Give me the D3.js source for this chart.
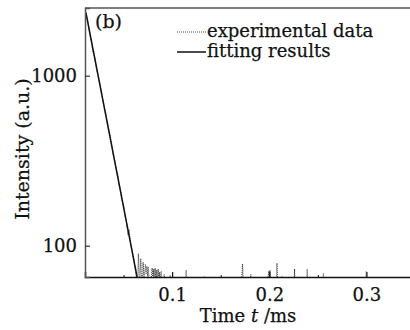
<!DOCTYPE html>
<html>
<head>
<meta charset="utf-8">
<script src="https://cdn.jsdelivr.net/npm/d3@7"></script>
<style>
  body { margin: 0; background: #fff; }
  svg { display: block; }
  text { font-family: "DejaVu Serif", "Liberation Serif", serif; fill: #111; stroke: #111; stroke-width: 0.25; }
</style>
</head>
<body>
<div id="chart"></div>
<script>
// experimental decay curve (time in ms, intensity in a.u.)
const expTime = [0.0113, 0.0125, 0.014, 0.0155, 0.017, 0.0185, 0.02, 0.0215, 0.023, 0.0245,
  0.026, 0.0275, 0.029, 0.0305, 0.032, 0.0335, 0.035, 0.0365, 0.038, 0.0395,
  0.041, 0.0425, 0.044, 0.0455, 0.047, 0.0485, 0.05, 0.0515, 0.053, 0.0545,
  0.0557, 0.057, 0.0585, 0.06, 0.0615, 0.063,
  0.0645, 0.0653, 0.066, 0.0668, 0.0677, 0.0685, 0.0693, 0.0701, 0.071, 0.0718,
  0.0725, 0.0732, 0.074, 0.0748, 0.0755, 0.0765, 0.078, 0.0794, 0.0802, 0.081,
  0.0818, 0.0825, 0.0833, 0.0841, 0.0848, 0.0856, 0.0864, 0.0872, 0.088, 0.0887,
  0.0895, 0.0905, 0.0918, 0.093, 0.095, 0.098, 0.0995, 0.105, 0.113, 0.1144,
  0.1155, 0.13, 0.1333, 0.135, 0.15, 0.17, 0.1725, 0.174, 0.18, 0.181,
  0.182, 0.195, 0.1995, 0.2, 0.2008, 0.202, 0.207, 0.2079, 0.209, 0.212,
  0.213, 0.214, 0.225, 0.226, 0.227, 0.238, 0.239, 0.24, 0.255, 0.2557,
  0.2565, 0.299, 0.2997, 0.3005, 0.35];
const expIntensity = [2380, 2150, 1960, 1700, 1560, 1380, 1310, 1150, 1040, 960,
  870, 790, 700, 640, 590, 520, 480, 430, 390, 340,
  315, 280, 262, 228, 210, 185, 172, 150, 138, 118,
  122, 106, 95, 86, 76, 66,
  60, 90, 70, 62, 84, 66, 60, 80, 64, 70,
  78, 68, 76, 66, 75, 60, 58, 74, 60, 73,
  58, 74, 60, 72, 58, 73, 60, 70, 57, 71,
  58, 55, 68, 55, 50, 67, 50, 45, 48, 72,
  45, 42, 66, 42, 40, 45, 78, 45, 48, 68,
  45, 42, 71, 60, 72, 44, 48, 79, 46, 45,
  66, 44, 46, 73, 45, 46, 73, 45, 45, 69,
  45, 42, 71, 42, 40];

// single-exponential fit
const fitTime = [0.0113, 0.0645];
const fitIntensity = [2340, 63];

const yTicks = [100, 1000];
const xTicks = [0.1, 0.2, 0.3];
const xMinorTicks = [0.05, 0.15, 0.25];

const width = 410;
const height = 330;
const margin = { top: 8, right: 0, bottom: 53, left: 85 };

const svg = d3.select('#chart')
  .append('svg')
  .attr('width', width)
  .attr('height', height);

const x = d3.scaleLinear()
  .domain([0.0103, 0.35])
  .range([margin.left, 415]);

const y = d3.scaleLog()
  .domain([65.5, 2500])
  .range([height - margin.bottom, margin.top]);

svg.append('clipPath')
  .attr('id', 'plot-clip')
  .append('rect')
  .attr('x', margin.left)
  .attr('y', margin.top)
  .attr('width', width - margin.left)
  .attr('height', height - margin.bottom - margin.top);

const expData = expTime.map((t, i) => [t, expIntensity[i]]);
const fitData = fitTime.map((t, i) => [t, fitIntensity[i]]);

const line = d3.line()
  .x(d => x(d[0]))
  .y(d => y(d[1]));

const plot = svg.append('g').attr('clip-path', 'url(#plot-clip)');

plot.append('path')
  .datum(expData)
  .attr('d', line)
  .attr('fill', 'none')
  .attr('stroke', '#444')
  .attr('stroke-width', 1.1)
  .attr('stroke-dasharray', '1,1');

plot.append('path')
  .datum(fitData)
  .attr('d', line)
  .attr('fill', 'none')
  .attr('stroke', '#111')
  .attr('stroke-width', 1.5);

// frame: top border
svg.append('line')
  .attr('x1', margin.left).attr('x2', width)
  .attr('y1', margin.top).attr('y2', margin.top)
  .attr('stroke', '#555').attr('stroke-width', 1.5);

// x axis (ticks point inward)
const xAxis = svg.append('g')
  .attr('transform', `translate(0,${height - margin.bottom})`)
  .call(d3.axisBottom(x).tickValues(xTicks).tickSize(-5).tickPadding(11).tickFormat(d3.format('.1f')));
xAxis.select('.domain').attr('stroke', '#111').attr('stroke-width', 1.5);
xAxis.selectAll('.tick line').attr('stroke', '#111').attr('stroke-width', 1.2);
xAxis.selectAll('text')
  .attr('font-size', 18)
  .style('font-family', '"DejaVu Serif", serif')
  .attr('fill', '#111');

svg.append('g')
  .attr('transform', `translate(0,${height - margin.bottom})`)
  .call(d3.axisBottom(x).tickValues(xMinorTicks).tickSize(-2).tickFormat(''))
  .call(g => g.select('.domain').remove())
  .selectAll('.tick line').attr('stroke', '#111');

// y axis (log)
const yAxis = svg.append('g')
  .attr('transform', `translate(${margin.left},0)`)
  .call(d3.axisLeft(y).tickValues(yTicks).tickSize(-5).tickPadding(8).tickFormat(d3.format('d')));
yAxis.select('.domain').attr('stroke', '#555').attr('stroke-width', 1.5);
yAxis.selectAll('.tick line').attr('stroke', '#333').attr('stroke-width', 1.2);
yAxis.selectAll('text')
  .attr('font-size', 18)
  .style('font-family', '"DejaVu Serif", serif')
  .attr('fill', '#111');

// axis titles
const xTitle = svg.append('text')
  .attr('x', 248)
  .attr('y', 322)
  .attr('text-anchor', 'middle')
  .attr('font-size', 18);
xTitle.append('tspan').text('Time ');
xTitle.append('tspan').attr('font-style', 'italic').text('t');
xTitle.append('tspan').text(' /ms');

svg.append('text')
  .attr('transform', 'translate(29,149) rotate(-90)')
  .attr('text-anchor', 'middle')
  .attr('font-size', 19)
  .text('Intensity (a.u.)');

// panel label
svg.append('text')
  .attr('x', 95)
  .attr('y', 28)
  .attr('font-size', 19)
  .text('(b)');

// legend
const legend = [
  { label: 'experimental data', dash: '1,1', color: '#444', w: 1.1, y: 32 },
  { label: 'fitting results', dash: null, color: '#111', w: 1.5, y: 52 }
];
const lg = svg.append('g');
legend.forEach(d => {
  lg.append('line')
    .attr('x1', 177).attr('x2', 206)
    .attr('y1', d.y).attr('y2', d.y)
    .attr('stroke', d.color)
    .attr('stroke-width', d.w)
    .attr('stroke-dasharray', d.dash);
  lg.append('text')
    .attr('x', 207)
    .attr('y', d.y + 5)
    .attr('font-size', 18)
    .text(d.label);
});
</script>
</body>
</html>
